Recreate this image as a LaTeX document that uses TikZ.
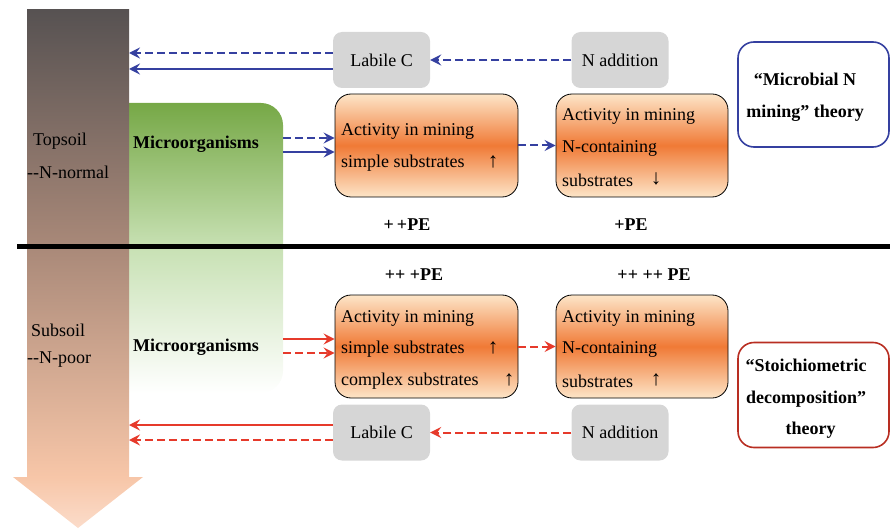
\documentclass[tikz,border=0pt]{standalone}
\usepackage{fontspec}
\setmainfont{Liberation Serif}
\usetikzlibrary{arrows.meta,calc}
\definecolor{nblue}{HTML}{3540A0}
\definecolor{nred}{HTML}{E63A2B}
\definecolor{boxgray}{HTML}{D6D6D6}
\definecolor{peach}{HTML}{FDE5C8}
\definecolor{orng}{HTML}{F07A36}
\definecolor{gtop}{RGB}{118,168,70}
\definecolor{gmid}{RGB}{200,225,180}
\definecolor{stop}{RGB}{87,82,82}
\definecolor{smid}{RGB}{168,136,120}
\definecolor{sbot}{RGB}{247,198,168}
\definecolor{htip}{RGB}{251,220,202}
\begin{document}
\begin{tikzpicture}[x=1pt,y=-1pt,
  font=\fontsize{18}{21}\selectfont,
  tip/.style={-{Stealth[length=11pt,width=11pt,inset=4pt]}},
  conn/.style={line width=2pt,tip},
  dsh/.style={dash pattern=on 8pt off 4pt},
  graybox/.style={fill=boxgray,rounded corners=9pt,minimum width=97pt,minimum height=56pt,inner sep=0pt},
  obox/.style={draw=black,line width=0.8pt,rounded corners=16pt,top color=peach,bottom color=peach,middle color=orng,minimum height=103pt,inner sep=0pt},
  txt/.style={anchor=west,inner sep=0pt},
  updown/.style={inner sep=0pt,font=\fontsize{21}{21}\selectfont},
  bold/.style={font=\fontsize{18}{21}\selectfont\bfseries},
  theory/.style={draw,line width=1.6pt,rounded corners=16pt,minimum width=151pt,minimum height=105pt,inner sep=0pt},
  thtext/.style={align=center,font=\fontsize{18}{31.5}\selectfont\bfseries,inner sep=0pt}]
\useasboundingbox (0,0) rectangle (890,529);
% green microorganism band
\node[rounded corners=22pt,minimum width=180pt,minimum height=290pt,inner sep=0pt,
      top color=gtop,bottom color=white,middle color=gmid] (green) at (193,248) {};
% big soil arrow
\shade[top color=stop,bottom color=sbot,middle color=smid] (27,10) rectangle (129,477);
\shade[top color=sbot,bottom color=htip] (13,477) -- (143,477) -- (78,528) -- cycle;
% divider
\draw[line width=5pt] (17,246) -- (890,246);
% soil labels
\node[txt] (top1) at (33,141) {Topsoil};
\node[txt] (top2) at (27,172) {{-}{-}N-normal};
\node[txt] (sub1) at (31,330) {Subsoil};
\node[txt] (sub2) at (27,360) {{-}{-}N-poor};
\node[txt,bold] (mic1) at (133,144) {Microorganisms};
\node[txt,bold] (mic2) at (133,347) {Microorganisms};
% gray boxes
\node[graybox] (lc1) at (381.5,60) {Labile C\hspace{6pt}};
\node[graybox] (na1) at (620,60) {N addition\hspace{10pt}};
\node[graybox] (lc2) at (381.5,432.5) {Labile C\hspace{6pt}};
\node[graybox] (na2) at (620,432.5) {N addition\hspace{10pt}};
% orange boxes
\node[obox,minimum width=183pt] (b1) at (426.5,145.5) {};
\node[obox,minimum width=172pt] (b2) at (642,145.5) {};
\node[obox,minimum width=183pt] (b3) at (426.5,346.5) {};
\node[obox,minimum width=172pt] (b4) at (642,346.5) {};
\node[txt] (t11) at (341,131) {Activity in mining};
\node[txt] (t12) at (341,163) {simple substrates};
\node[updown] (u12) at (493,162) {↑};
\node[txt] (t21) at (562,116) {Activity in mining};
\node[txt] (t22) at (562,148) {N-containing};
\node[txt] (t23) at (562,180) {substrates};
\node[updown] (d23) at (656,179) {↓};
\node[txt] (t31) at (341,318) {Activity in mining};
\node[txt] (t32) at (341,349) {simple substrates};
\node[txt] (t33) at (341,381) {complex substrates};
\node[updown] (u32) at (493,348) {↑};
\node[updown] (u33) at (509,380) {↑};
\node[txt] (t41) at (562,318) {Activity in mining};
\node[txt] (t42) at (562,349) {N-containing};
\node[txt] (t43) at (562,381) {substrates};
\node[updown] (u43) at (656,380) {↑};
% PE labels
\node[bold] (pe1) at (407,225) {+\,+PE};
\node[bold] (pe2) at (631,225) {+PE};
\node[bold] (pe3) at (414,275) {++ +PE};
\node[bold] (pe4) at (654,275) {++ ++ PE};
% theory boxes
\node[theory,draw=nblue] (th1) at (813.5,94.5) {};
\node[thtext] (th1t) at (805,97) {“Microbial N\\mining” theory};
\node[theory,draw=nred!80!black] (th2) at (813.5,395) {};
\node[thtext] (th2t) at (806,399) {“Stoichiometric\\decomposition”\\\ \ theory};
% coordinates on soil arrow / green band
\coordinate (s1) at (129,53);
\coordinate (s2) at (129,69);
\coordinate (s3) at (129,425);
\coordinate (s4) at (129,440);
\coordinate (m1) at (283,138);
\coordinate (m2) at (283,152);
\coordinate (m3) at (283,339);
\coordinate (m4) at (283,353);
% blue connectors
\draw[conn,nblue,dsh] (na1.west) -- (lc1.east);
\draw[conn,nblue,dsh] (lc1.west |- s1) -- (s1);
\draw[conn,nblue] (lc1.west |- s2) -- (s2);
\draw[conn,nblue,dsh] (m1) -- (m1 -| b1.west);
\draw[conn,nblue] (m2) -- (m2 -| b1.west);
\draw[conn,nblue,dsh] (b1.east) -- (b2.west);
% red connectors
\draw[conn,nred,dsh] (na2.west) -- (lc2.east);
\draw[conn,nred] (lc2.west |- s3) -- (s3);
\draw[conn,nred,dsh] (lc2.west |- s4) -- (s4);
\draw[conn,nred] (m3) -- (m3 -| b3.west);
\draw[conn,nred,dsh] (m4) -- (m4 -| b3.west);
\draw[conn,nred,dsh] (b3.east) -- (b4.west);
\end{tikzpicture}
\end{document}
